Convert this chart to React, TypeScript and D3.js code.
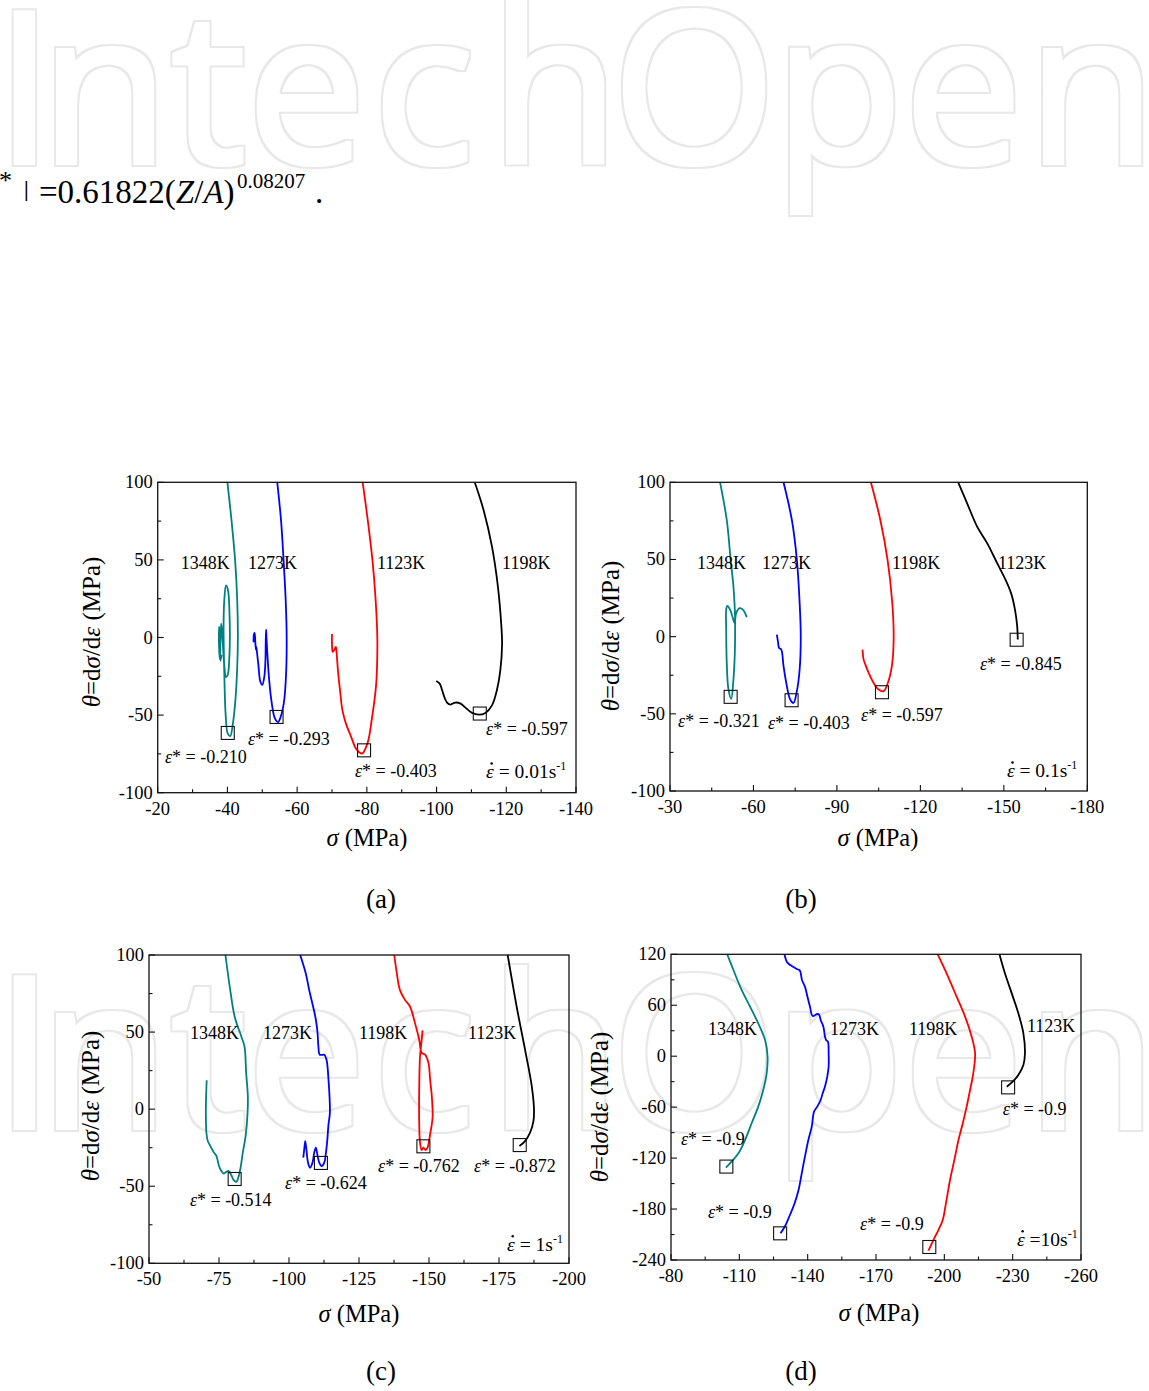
import React from 'react';
import * as d3 from 'd3';

type Pt = [number, number];

const FONT = "'Liberation Serif','Times New Roman',Times,serif";
const TEAL = '#008080';
const BLUE = '#0000ff';
const RED = '#ff0000';
const BLACK = '#000000';

// ---------- Panel (a): strain rate 0.01 s^-1 ----------
const aXTicks = [-20, -40, -60, -80, -100, -120, -140];
const aYTicks = [-100, -50, 0, 50, 100];
const a1348: Pt[] = [[-40.0,100],[-41.2,75],[-42.2,50],[-42.8,25],[-43.0,0],[-42.8,-20],[-42.3,-40],[-41.6,-55],[-40.8,-63.5],[-40.1,-62],[-39.5,-50],[-39.2,-32],[-39.0,-12],[-38.9,8],[-39.1,24],[-39.6,33.5],[-40.2,30],[-40.6,15],[-40.7,0],[-40.5,-15],[-40.1,-24],[-39.6,-25.5],[-39.1,-18],[-38.7,-5],[-38.4,5],[-38.2,9],[-38.0,-2],[-37.8,-14],[-37.6,-6],[-37.6,7],[-37.8,2],[-38.0,-15],[-38.3,-11]];
const a1273: Pt[] = [[-54.3,100],[-55.4,75],[-56.1,50],[-56.7,25],[-57.0,0],[-56.8,-25],[-56.2,-42],[-55.3,-51],[-54.5,-54.5],[-53.6,-52],[-52.7,-42],[-52.0,-28],[-51.5,-12],[-51.2,0],[-51.1,5],[-51.0,-2],[-50.9,-15],[-50.6,-25],[-50.0,-30.5],[-49.4,-28],[-48.9,-18],[-48.5,-10],[-48.3,-6],[-48.2,-8],[-48.0,-3],[-47.8,3],[-47.6,2],[-47.5,-3]];
const a1123: Pt[] = [[-78.8,100],[-80.3,75],[-81.6,50],[-82.5,25],[-83.0,0],[-82.9,-20],[-82.6,-32],[-81.4,-53],[-80.2,-68],[-78.6,-74.8],[-76.9,-71.6],[-75.5,-64],[-74.0,-55.5],[-73.0,-47],[-72.3,-34],[-71.7,-21],[-71.3,-9.2],[-71.1,-6],[-70.6,-8.2],[-70.2,-9.2],[-70.0,-3.9],[-70.0,2.2]];
const a1198: Pt[] = [[-110.95,100],[-113.5,82],[-115.9,58.5],[-117.6,32.7],[-118.6,6.9],[-118.8,-3.9],[-118.3,-21],[-117.3,-34],[-115.9,-43.7],[-114.0,-48.6],[-112.1,-49.7],[-110.2,-48.6],[-108.3,-45.2],[-106.9,-42.6],[-105.4,-41.9],[-104.0,-43.2],[-103.1,-42.2],[-102.4,-39.4],[-101.6,-34],[-100.9,-29.7],[-99.9,-28]];

// ---------- Panel (b): strain rate 0.1 s^-1 ----------
const bXTicks = [-30, -60, -90, -120, -150, -180];
const bYTicks = [-100, -50, 0, 50, 100];
const b1348: Pt[] = [[-48.0,100],[-50.4,75.6],[-51.8,49.8],[-52.8,32.5],[-53.3,17.5],[-53.4,8.8],[-53.3,-10.6],[-52.8,-27.8],[-52.0,-40.3],[-51.0,-34],[-50.4,-17],[-50.2,4.5],[-50.2,17.5],[-50.6,20],[-51.6,17.5],[-52.6,12],[-53.2,8.8],[-53.8,15.3],[-55.0,18.5],[-56.2,17.5],[-57.6,12.7]];
const b1273: Pt[] = [[-70.8,100],[-73.8,75.6],[-75.6,49.8],[-76.6,21.8],[-77.0,0],[-76.6,-21.3],[-75.6,-35.3],[-74.4,-42.9],[-73.2,-40.7],[-72.0,-32],[-70.8,-19],[-70.0,-8.4],[-69.2,-7.3],[-68.8,-3],[-68.4,1.3]];
const b1198: Pt[] = [[-102.2,100],[-105.6,75.6],[-108.2,49.8],[-109.9,21.8],[-110.4,0],[-109.9,-17],[-108.7,-27.8],[-106.8,-35.3],[-105.0,-34.3],[-103.2,-30],[-101.4,-23.5],[-100.2,-18],[-99.6,-14.9],[-99.2,-8.4]];
const b1123: Pt[] = [[-133.6,100],[-136.8,86.4],[-140.4,71.3],[-144.0,60.6],[-147.6,47.6],[-150.6,36.9],[-152.6,28.2],[-154.0,17.5],[-154.8,6.7],[-155.0,-1.9]];

// ---------- Panel (c): strain rate 1 s^-1 ----------
const cXTicks = [-50, -75, -100, -125, -150, -175, -200];
const cYTicks = [-100, -50, 0, 50, 100];
const c1348: Pt[] = [[-77.3,100],[-79.0,77.4],[-80.6,60],[-83.0,47],[-84.1,40.7],[-84.7,23.5],[-85.3,8.4],[-85.2,-2.4],[-84.5,-17.5],[-83.5,-28.2],[-82.6,-39],[-81.8,-45],[-81.2,-47.2],[-80.2,-45.9],[-79.4,-42.9],[-78.4,-40.1],[-77.6,-40.7],[-76.7,-41.8],[-75.7,-39.7],[-75.0,-36.9],[-74.1,-30.4],[-73.2,-28.2],[-72.4,-25.6],[-71.4,-22.2],[-71.0,-20.7],[-70.5,-15.3],[-70.3,-2.4],[-70.4,8.4],[-70.6,18.8]];
const c1273: Pt[] = [[-104.0,100],[-106.0,88],[-107.2,77.4],[-108.6,66.6],[-109.6,58],[-110.2,49.4],[-110.5,40.7],[-111.0,35.3],[-112.6,35.3],[-113.4,32],[-114.1,19.2],[-114.6,-2.4],[-114.1,-10],[-113.7,-19.6],[-113.2,-28.2],[-112.6,-34.7],[-111.7,-36.9],[-110.8,-34.7],[-110.0,-28.2],[-109.6,-25],[-109.0,-28.2],[-108.4,-34.7],[-107.5,-38],[-106.8,-34.7],[-106.2,-26],[-105.8,-20.7],[-105.5,-25],[-105.1,-31.5]];
const c1198: Pt[] = [[-137.6,100],[-138.5,88.2],[-139.6,77.4],[-141.4,70.9],[-143.2,66.6],[-145.0,55.8],[-146.5,45],[-147.4,36.5],[-148.6,35.4],[-149.8,30],[-150.4,19.2],[-151.0,8.4],[-151.3,-4.5],[-151.0,-9.9],[-150.6,-14.1],[-150.1,-19.6],[-149.5,-25],[-148.8,-26.5],[-148.0,-25],[-147.4,-26.5],[-146.8,-21.7],[-146.5,-8.8],[-146.5,12.8],[-146.8,34.3],[-147.4,45],[-147.7,51.1]];
const c1123: Pt[] = [[-178.1,100],[-181.3,66.6],[-184.3,38.6],[-186.7,14.9],[-187.5,-0.2],[-187.3,-7.8],[-186.1,-15.3],[-184.3,-20.7],[-182.3,-23.9]];

// ---------- Panel (d): strain rate 10 s^-1 ----------
const dXTicks = [-80, -110, -140, -170, -200, -230, -260];
const dYTicks = [-240, -180, -120, -60, 0, 60, 120];
const d1348: Pt[] = [[-104.7,120],[-107.4,101.5],[-111.0,78],[-114.7,58.4],[-118.3,38.7],[-121.3,19],[-122.4,-0.5],[-122.0,-20.2],[-120.5,-39.8],[-118.3,-59.4],[-115.4,-79],[-112.5,-98.7],[-109.6,-114.4],[-106.6,-124.2],[-104.1,-131.3]];
const d1273: Pt[] = [[-129.8,120],[-130.5,113.3],[-131.1,110.2],[-133.4,105.5],[-135.5,102.3],[-136.6,100.8],[-137.5,89.8],[-138.8,81.9],[-139.9,70.1],[-141.0,58.4],[-142.2,47.4],[-144.2,49.7],[-145.1,48.5],[-145.7,42.7],[-146.9,34.8],[-147.6,23],[-148.1,19.1],[-148.9,17.1],[-149.2,3.4],[-149.2,-12.3],[-148.6,-24.1],[-147.6,-35.8],[-146.6,-43.7],[-145.7,-51.6],[-144.2,-59.4],[-142.8,-65.3],[-141.8,-83],[-140.3,-98.7],[-138.8,-118.3],[-137.4,-138],[-136.0,-157.6],[-134.0,-175.3],[-132.2,-187],[-130.1,-200],[-128.1,-208.6]];
const d1198: Pt[] = [[-197.1,120],[-201.0,97.6],[-205.4,70.1],[-209.1,46.6],[-212.0,23],[-213.5,3.4],[-212.7,-20.2],[-211.3,-39.8],[-209.8,-59.4],[-208.1,-79],[-206.2,-98.7],[-204.7,-118.3],[-202.5,-145.8],[-200.7,-173.3],[-199.3,-192.9],[-197.4,-204.7],[-195.2,-216.5],[-193.0,-229]];
const d1123: Pt[] = [[-224.2,120],[-226.6,97.6],[-229.6,74],[-232.5,50.5],[-234.7,27],[-235.4,3.4],[-234.7,-10.3],[-232.5,-22.1],[-230.0,-30],[-227.4,-35.9]];

type Series = {
  temp: string; color: string; data: Pt[];
  marker: Pt; eps: string; epsAt: Pt; tempAt: Pt;
};
type Spec = {
  l: number; r: number; t: number; b: number;
  xDomain: [number, number]; yDomain: [number, number];
  xTicks: number[]; yTicks: number[];
  series: Series[];
  rate: string; rateGap: string; rateAt: Pt;
  xTitle: Pt; yTitle: Pt; caption: string; capAt: Pt;
};

const panels: Spec[] = [
  {
    l: 157.7, r: 576, t: 482.3, b: 792.7, xDomain: [-20, -140], yDomain: [-100, 100],
    xTicks: aXTicks, yTicks: aYTicks,
    series: [
      { temp: '1348K', color: TEAL, data: a1348, marker: [-40.1, -61.5], eps: '-0.210', epsAt: [-22.1, -80.9], tempAt: [-26.6, 44.1] },
      { temp: '1273K', color: BLUE, data: a1273, marker: [-54.1, -51.2], eps: '-0.293', epsAt: [-45.9, -69.3], tempAt: [-45.9, 44.1] },
      { temp: '1123K', color: RED, data: a1123, marker: [-79.2, -72.7], eps: '-0.403', epsAt: [-76.6, -89.9], tempAt: [-82.9, 44.1] },
      { temp: '1198K', color: BLACK, data: a1198, marker: [-112.4, -49], eps: '-0.597', epsAt: [-114.2, -62.8], tempAt: [-118.8, 44.1] },
    ],
    rate: '0.01s', rateGap: ' = ', rateAt: [-114.2, -90.5],
    xTitle: [367, 846], yTitle: [100, 632], caption: '(a)', capAt: [381, 908],
  },
  {
    l: 670, r: 1087.3, t: 482.3, b: 791, xDomain: [-30, -180], yDomain: [-100, 100],
    xTicks: bXTicks, yTicks: bYTicks,
    series: [
      { temp: '1348K', color: TEAL, data: b1348, marker: [-51.8, -39], eps: '-0.321', epsAt: [-32.9, -58.5], tempAt: [-39.7, 43.9] },
      { temp: '1273K', color: BLUE, data: b1273, marker: [-73.7, -41.2], eps: '-0.403', epsAt: [-65.2, -59.8], tempAt: [-63.1, 43.9] },
      { temp: '1198K', color: RED, data: b1198, marker: [-106.2, -36], eps: '-0.597', epsAt: [-98.7, -54.6], tempAt: [-109.8, 43.9] },
      { temp: '1123K', color: BLACK, data: b1123, marker: [-154.6, -2], eps: '-0.845', epsAt: [-141.4, -21.6], tempAt: [-147.9, 43.9] },
    ],
    rate: '0.1s', rateGap: ' = ', rateAt: [-151.1, -90.9],
    xTitle: [878, 846], yTitle: [619, 636], caption: '(b)', capAt: [801, 908],
  },
  {
    l: 149, r: 569, t: 955, b: 1263.3, xDomain: [-50, -200], yDomain: [-100, 100],
    xTicks: cXTicks, yTicks: cYTicks,
    series: [
      { temp: '1348K', color: TEAL, data: c1348, marker: [-80.6, -45.3], eps: '-0.514', epsAt: [-64.6, -62.6], tempAt: [-64.6, 45.5] },
      { temp: '1273K', color: BLUE, data: c1273, marker: [-111.4, -34.9], eps: '-0.624', epsAt: [-98.6, -51.8], tempAt: [-90.7, 45.5] },
      { temp: '1198K', color: RED, data: c1198, marker: [-148, -24.1], eps: '-0.762', epsAt: [-131.8, -40.7], tempAt: [-125, 45.5] },
      { temp: '1123K', color: BLACK, data: c1123, marker: [-182.4, -23.3], eps: '-0.872', epsAt: [-166.1, -40.7], tempAt: [-163.9, 45.5] },
    ],
    rate: '1s', rateGap: ' = ', rateAt: [-177.9, -91.8],
    xTitle: [359, 1322], yTitle: [99, 1106], caption: '(c)', capAt: [381, 1380],
  },
  {
    l: 671, r: 1081, t: 954.3, b: 1260, xDomain: [-80, -260], yDomain: [-240, 120],
    xTicks: dXTicks, yTicks: dYTicks,
    series: [
      { temp: '1348K', color: TEAL, data: d1348, marker: [-104.3, -130], eps: '-0.9', epsAt: [-84.4, -104.6], tempAt: [-96.2, 25] },
      { temp: '1273K', color: BLUE, data: d1273, marker: [-127.9, -208.6], eps: '-0.9', epsAt: [-96.2, -190.6], tempAt: [-149.8, 25] },
      { temp: '1198K', color: RED, data: d1198, marker: [-193.4, -224.7], eps: '-0.9', epsAt: [-163, -204.7], tempAt: [-184.5, 25] },
      { temp: '1123K', color: BLACK, data: d1123, marker: [-228, -36.7], eps: '-0.9', epsAt: [-225.7, -69.3], tempAt: [-236.3, 28.5] },
    ],
    rate: '10s', rateGap: ' =', rateAt: [-231.9, -223.2],
    xTitle: [879, 1321], yTitle: [608, 1107], caption: '(d)', capAt: [801, 1380],
  },
];

const minorOf = (ticks: number[]) => ticks.slice(1).map((v, i) => (v + ticks[i]) / 2);

function Panel({ s }: { s: Spec }) {
  const x = d3.scaleLinear().domain(s.xDomain).range([s.l, s.r]);
  const y = d3.scaleLinear().domain(s.yDomain).range([s.b, s.t]);
  const line = d3.line<Pt>().x(d => x(d[0])).y(d => y(d[1])).curve(d3.curveCatmullRom.alpha(0.5));
  const xm = minorOf(s.xTicks);
  const ym = minorOf(s.yTicks);
  const sq = 13;
  const rx = x(s.rateAt[0]);
  const ry = y(s.rateAt[1]);
  return (
    <g fontFamily={FONT} fill="#000">
      {s.series.map(se => (
        <path key={se.temp + 'p'} d={line(se.data) || ''} fill="none" stroke={se.color} strokeWidth={1.8} strokeLinejoin="round" />
      ))}
      {s.series.map(se => (
        <rect key={se.temp + 'm'} x={x(se.marker[0]) - sq / 2} y={y(se.marker[1]) - sq / 2} width={sq} height={sq} fill="none" stroke="#111" strokeWidth={1.1} />
      ))}
      <rect x={s.l} y={s.t} width={s.r - s.l} height={s.b - s.t} fill="none" stroke="#111" strokeWidth={1.3} />
      {s.xTicks.map(v => (
        <g key={'xt' + v}>
          <line x1={x(v)} x2={x(v)} y1={s.b} y2={s.b - 6} stroke="#111" strokeWidth={1.1} />
          <text x={x(v)} y={s.b + 22} textAnchor="middle" fontSize={18.5}>{String(v)}</text>
        </g>
      ))}
      {xm.map(v => (
        <line key={'xm' + v} x1={x(v)} x2={x(v)} y1={s.b} y2={s.b - 3.5} stroke="#111" strokeWidth={1.1} />
      ))}
      {s.yTicks.map(v => (
        <g key={'yt' + v}>
          <line x1={s.l} x2={s.l + 6} y1={y(v)} y2={y(v)} stroke="#111" strokeWidth={1.1} />
          <text x={s.l - 5} y={y(v) + 6} textAnchor="end" fontSize={18.5}>{String(v)}</text>
        </g>
      ))}
      {ym.map(v => (
        <line key={'ym' + v} x1={s.l} x2={s.l + 3.5} y1={y(v)} y2={y(v)} stroke="#111" strokeWidth={1.1} />
      ))}
      {s.series.map(se => (
        <text key={se.temp + 't'} x={x(se.tempAt[0])} y={y(se.tempAt[1])} fontSize={18}>{se.temp}</text>
      ))}
      {s.series.map(se => (
        <text key={se.temp + 'e'} x={x(se.epsAt[0])} y={y(se.epsAt[1])} fontSize={18}>
          <tspan fontStyle="italic">ε</tspan>* = {se.eps}
        </text>
      ))}
      <text x={rx} y={ry} fontSize={19.5}>
        <tspan fontStyle="italic">ε</tspan>{s.rateGap}{s.rate}<tspan dy={-8} fontSize={12}>-1</tspan>
      </text>
      <circle cx={rx + 5.6} cy={ry - 14.5} r={1.25} fill="#000" />
      <text x={s.xTitle[0]} y={s.xTitle[1]} textAnchor="middle" fontSize={24.5}>
        <tspan fontStyle="italic">σ</tspan> (MPa)
      </text>
      <text transform={`translate(${s.yTitle[0]},${s.yTitle[1]}) rotate(-90)`} textAnchor="middle" fontSize={25}>
        <tspan fontStyle="italic">θ</tspan>=d<tspan fontStyle="italic">σ</tspan>/d<tspan fontStyle="italic">ε</tspan> (MPa)
      </text>
      <text x={s.capAt[0]} y={s.capAt[1]} textAnchor="middle" fontSize={27}>{s.caption}</text>
    </g>
  );
}

// per-glyph origins for the watermark letters
const WM_X = '-5 40 171 247 373 490 612 774 904 1027';

function Watermark({ base }: { base: number }) {
  return (
    <text x={WM_X} y={base} fontFamily="'Open Sans', sans-serif" fontSize={211}
      fill="#000" filter="url(#wmRing)">
      IntechOpen
    </text>
  );
}

export default function App() {
  return (
    <svg width={1149} height={1391} viewBox="0 0 1149 1391"
      style={{ position: 'absolute', left: 0, top: 0, background: '#fff' }}>
      <defs>
        <filter id="wmRing" x="-5%" y="-20%" width="110%" height="140%" colorInterpolationFilters="sRGB">
          <feMorphology in="SourceAlpha" operator="dilate" radius={4.25} result="outer" />
          <feMorphology in="SourceAlpha" operator="dilate" radius={1.75} result="inner" />
          <feComposite in="outer" in2="inner" operator="out" result="ring" />
          <feFlood floodColor="#e8e8e8" result="col" />
          <feComposite in="col" in2="ring" operator="in" />
        </filter>
      </defs>
      <rect x={0} y={0} width={1149} height={1391} fill="#fff" />
      <Watermark base={163} />
      <Watermark base={1128} />
      <text fontFamily={FONT} fill="#000" fontSize={33} y={203}>
        <tspan x={-1} y={189} fontSize={26}>*</tspan>
        <tspan x={24} y={196} fontSize={21} fontWeight="bold">|</tspan>
        <tspan x={39} y={203}>=0.61822(<tspan fontStyle="italic">Z</tspan>/<tspan fontStyle="italic">A</tspan>)</tspan>
        <tspan x={237} y={188} fontSize={21}>0.08207</tspan>
        <tspan x={315} y={203}>.</tspan>
      </text>
      {panels.map((p, i) => <Panel key={i} s={p} />)}
    </svg>
  );
}
